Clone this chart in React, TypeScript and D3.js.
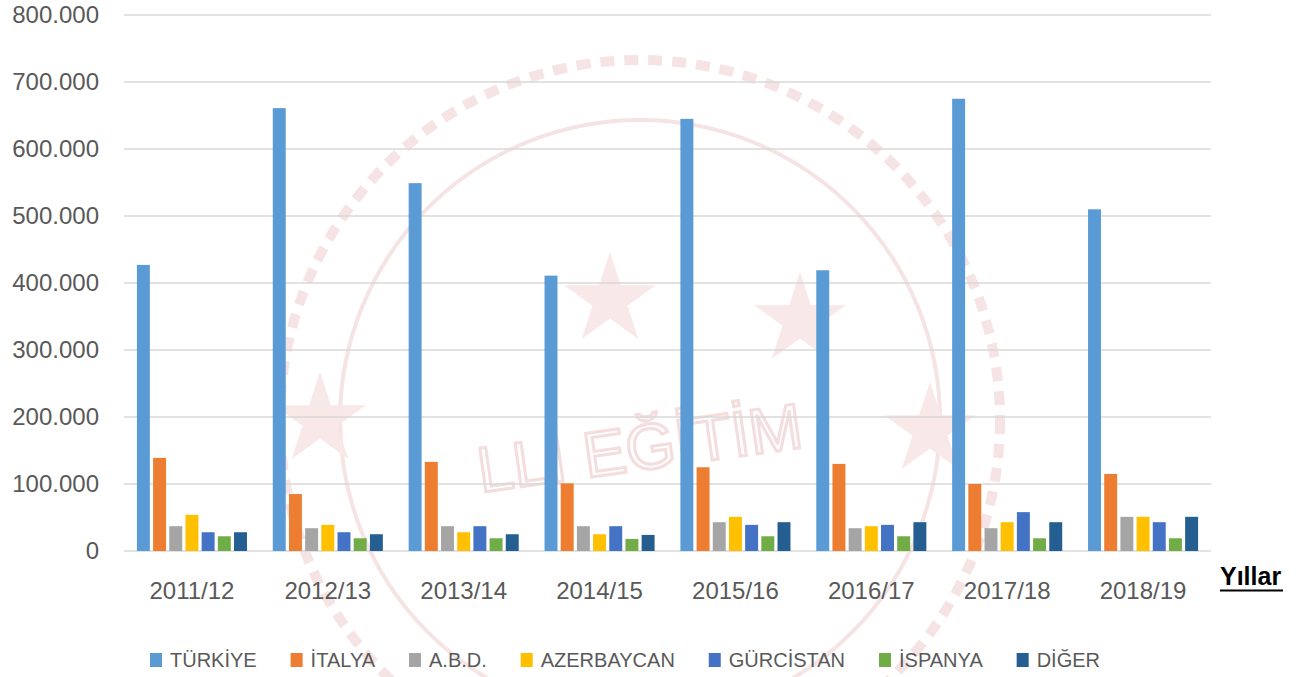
import React, { useEffect, useRef } from 'react';
import * as d3 from 'd3';

// Academic years (x categories)
const years = ['2011/12', '2012/13', '2013/14', '2014/15', '2015/16', '2016/17', '2017/18', '2018/19'];

// Series names (legend order)
const countries = ['TÜRKİYE', 'İTALYA', 'A.B.D.', 'AZERBAYCAN', 'GÜRCİSTAN', 'İSPANYA', 'DİĞER'];

// Values per series, one per year
const turkiye = [427000, 661000, 549000, 411000, 645000, 419000, 675000, 510000];
const italya = [139000, 85000, 133000, 101000, 125000, 130000, 100000, 115000];
const abd = [37000, 34000, 37000, 37000, 43000, 34000, 34000, 51000];
const azerbaycan = [54000, 39000, 28000, 25000, 51000, 37000, 43000, 51000];
const gurcistan = [28000, 28000, 37000, 37000, 39000, 39000, 58000, 43000];
const ispanya = [22000, 19000, 19000, 18000, 22000, 22000, 19000, 19000];
const diger = [28000, 25000, 25000, 24000, 43000, 43000, 43000, 51000];

const yTicks = [0, 100000, 200000, 300000, 400000, 500000, 600000, 700000, 800000];

const colors = ['#5b9bd5', '#ed7d31', '#a5a5a5', '#ffc000', '#4472c4', '#70ad47', '#255e91'];

const App: React.FC = () => {
    const chartRef = useRef<SVGSVGElement>(null);

    useEffect(() => {
        if (!chartRef.current) return;
        const svg = d3.select(chartRef.current);
        svg.selectAll('*').remove();

        const width = 1307;
        const height = 677;
        const plot = { left: 124, right: 1211, top: 15, bottom: 551 };
        const font = '"Liberation Sans", Arial, sans-serif';

        svg.attr('width', width).attr('height', height);

        svg.append('rect').attr('width', width).attr('height', height).attr('fill', '#ffffff');

        // faint stamp watermark behind the chart
        const wm = svg.append('g').attr('fill', 'none').attr('stroke', '#f6e3e3');
        wm.append('circle').attr('cx', 640).attr('cy', 420).attr('r', 360)
            .attr('stroke-width', 10).attr('stroke-dasharray', '14 10');
        wm.append('circle').attr('cx', 640).attr('cy', 420).attr('r', 300).attr('stroke-width', 4);
        const star = d3.symbol().type(d3.symbolStar).size(2600);
        [[320, 420], [610, 300], [800, 320], [930, 430]].forEach(([cx, cy]) => {
            svg.append('path').attr('d', star() as string)
                .attr('transform', `translate(${cx},${cy})`)
                .attr('fill', '#f8e8e8');
        });
        svg.append('text').attr('x', 640).attr('y', 470).attr('text-anchor', 'middle')
            .attr('font-family', font).attr('font-size', 64).attr('fill', 'none')
            .attr('stroke', '#f4dddd').attr('stroke-width', 3)
            .attr('transform', 'rotate(-8 640 450)')
            .text('LLİ EĞİTİM');

        const series = [turkiye, italya, abd, azerbaycan, gurcistan, ispanya, diger];

        const x0 = d3.scaleBand<string>()
            .domain(years)
            .range([plot.left, plot.right])
            .paddingInner(0.19)
            .paddingOuter(0.095);

        const x1 = d3.scaleBand<string>()
            .domain(countries)
            .range([0, x0.bandwidth()])
            .paddingInner(0.2);

        const y = d3.scaleLinear().domain([0, 800000]).range([plot.bottom, plot.top]);

        const fmt = (v: number) => (v === 0 ? '0' : d3.format(',')(v).replace(/,/g, '.'));

        // gridlines
        svg.append('g')
            .selectAll('line')
            .data(yTicks)
            .enter()
            .append('line')
            .attr('x1', plot.left)
            .attr('x2', plot.right)
            .attr('y1', d => y(d))
            .attr('y2', d => y(d))
            .attr('stroke', '#d9d9d9')
            .attr('stroke-width', 1.5);

        // y labels
        svg.append('g')
            .selectAll('text')
            .data(yTicks)
            .enter()
            .append('text')
            .attr('x', 99)
            .attr('y', d => y(d))
            .attr('dy', '0.35em')
            .attr('text-anchor', 'end')
            .attr('font-family', font)
            .attr('font-size', 24)
            .attr('fill', '#595959')
            .text(d => fmt(d));

        // bars
        const groups = svg.append('g')
            .selectAll('g')
            .data(years)
            .enter()
            .append('g')
            .attr('transform', d => `translate(${x0(d)},0)`);

        groups.selectAll('rect')
            .data((_, i) => countries.map((c, k) => ({ c, k, v: series[k][i] })))
            .enter()
            .append('rect')
            .attr('x', d => x1(d.c) as number)
            .attr('y', d => y(d.v))
            .attr('width', x1.bandwidth())
            .attr('height', d => plot.bottom - y(d.v))
            .attr('fill', d => colors[d.k]);

        // x labels
        svg.append('g')
            .selectAll('text')
            .data(years)
            .enter()
            .append('text')
            .attr('x', d => (x0(d) as number) + x0.bandwidth() / 2)
            .attr('y', 599)
            .attr('text-anchor', 'middle')
            .attr('font-family', font)
            .attr('font-size', 24)
            .attr('fill', '#595959')
            .text(d => d);

        // axis title
        svg.append('text')
            .attr('x', 1220)
            .attr('y', 585)
            .attr('font-family', font)
            .attr('font-size', 25)
            .attr('font-weight', 'bold')
            .attr('fill', '#000000')
            .text('Yıllar');
        svg.append('line')
            .attr('x1', 1220).attr('x2', 1283)
            .attr('y1', 590.5).attr('y2', 590.5)
            .attr('stroke', '#000000').attr('stroke-width', 2);

        // legend
        const legend = svg.append('g');
        const items = legend.selectAll('g')
            .data(countries)
            .enter()
            .append('g');
        items.append('rect')
            .attr('width', 12)
            .attr('height', 14)
            .attr('y', 653)
            .attr('fill', (_, i) => colors[i]);
        items.append('text')
            .attr('x', 20)
            .attr('y', 667)
            .attr('font-family', font)
            .attr('font-size', 20)
            .attr('fill', '#595959')
            .text(d => d);

        const widths: number[] = [];
        items.select('text').each(function () {
            widths.push((this as SVGTextElement).getComputedTextLength());
        });
        const legendLeft = 150;
        const legendRight = 1100;
        const used = d3.sum(widths) + countries.length * 20;
        const gap = (legendRight - legendLeft - used) / (countries.length - 1);
        let cursor = legendLeft;
        items.attr('transform', (_, i) => {
            const t = `translate(${cursor},0)`;
            cursor += 20 + widths[i] + gap;
            return t;
        });
    }, []);

    return (
        <div style={{ position: 'absolute', left: 0, top: 0 }}>
            <svg ref={chartRef} style={{ display: 'block' }}></svg>
        </div>
    );
};

export default App;
